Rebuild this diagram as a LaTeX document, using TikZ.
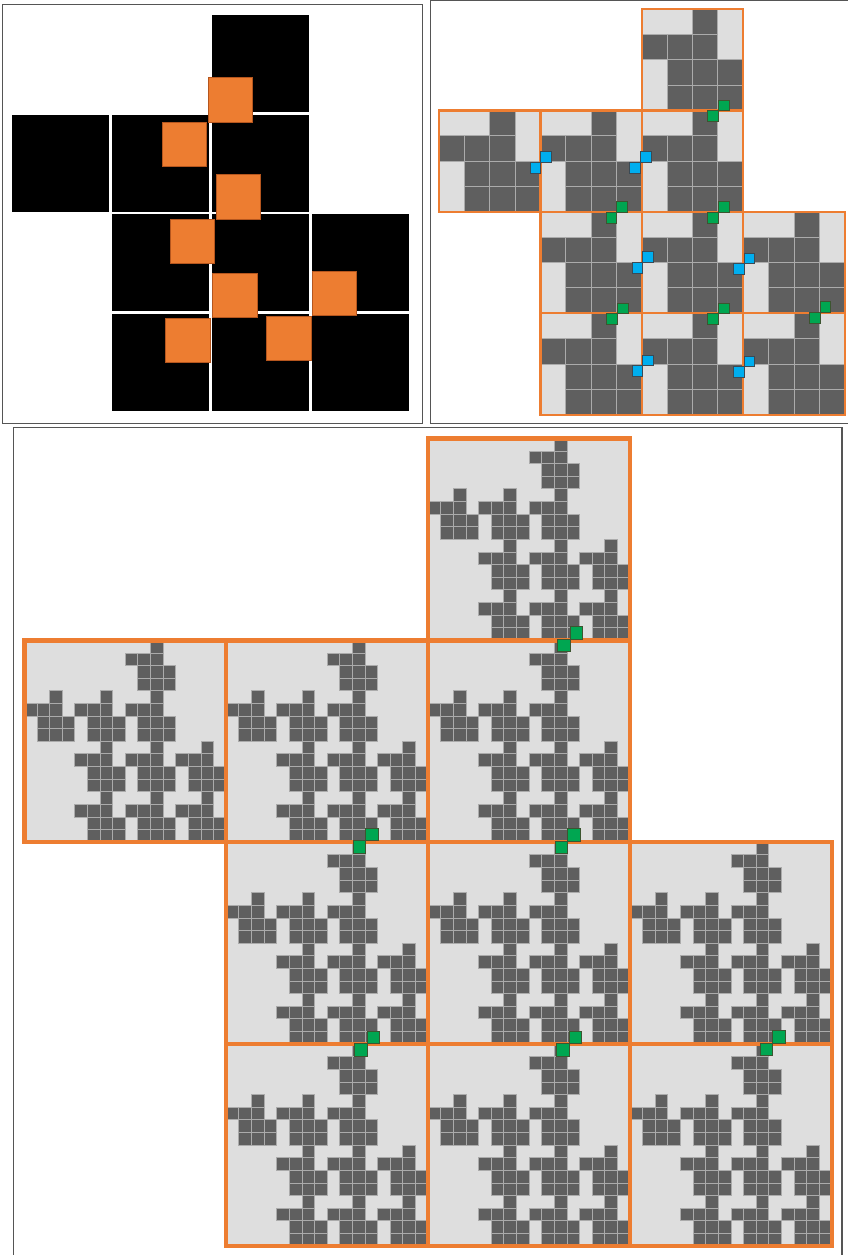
\documentclass[tikz,border=0pt]{standalone}
\usepackage{tikz}
\definecolor{dk}{HTML}{5F5F5F}
\definecolor{lt}{HTML}{DEDEDE}
\definecolor{gl}{HTML}{ABABAB}
\definecolor{org}{HTML}{ED7D31}
\definecolor{orgd}{HTML}{B5561E}
\definecolor{grn}{HTML}{00A651}
\definecolor{grnd}{HTML}{3C5530}
\definecolor{cyn}{HTML}{00AEEF}
\definecolor{cynd}{HTML}{3A4A55}
\definecolor{frm}{HTML}{555555}
\tikzset{
  frame/.style={draw=frm,line width=1.2pt},
  blk/.style={fill=black},
  osq/.style={fill=org,draw=orgd,line width=0.8pt},
  lightbg/.style={fill=lt},
  darkcell/.style={fill=dk,draw=gl,line width=0.8pt},
  oborder/.style={draw=org,line width=2.2pt},
  oborderbig/.style={draw=org,line width=4.4pt},
  gsq/.style={fill=grn,draw=grnd,line width=0.7pt},
  csq/.style={fill=cyn,draw=cynd,line width=0.7pt}
}
\newcommand\connpair[4]{%
  \filldraw[#1] ({#2-#4},#3) rectangle (#2,{#3+#4});
  \filldraw[#1] (#2,{#3-#4}) rectangle ({#2+#4},#3);}
\begin{document}
\begin{tikzpicture}[x=1pt,y=-1pt]
\useasboundingbox (0,0) rectangle (848,1255);
\fill[white] (0,0) rectangle (848,1255);
% ---------- top-left panel ----------
\draw[frame] (2.7,4.3) rectangle (422.3,423.3);
\foreach \r/\c in {0/2,1/0,1/1,1/2,2/1,2/2,2/3,3/1,3/2,3/3}
  {\fill[blk] ({12.3+99.8*\c},{14.8+99.8*\r}) rectangle ++(97,97);}
\foreach \xa/\ya/\xb/\yb in {208.3/77.7/252.3/122.7, 162.3/122.7/206.7/166.7,
  216/174/260/219, 170/219/214.3/263.3, 212.7/273.3/257.7/317.7,
  312.3/271/356.7/315.7, 165.5/318/210.5/362.5, 266.7/316/311/360}
  {\filldraw[osq] (\xa,\ya) rectangle (\xb,\yb);}
% ---------- top-right panel ----------
\draw[draw=frm,line width=1pt] (849,0.5) -- (430,0.5) -- (430,423.3) -- (849,423.3);
\foreach \R/\C in {0/2,1/0,1/1,1/2,2/1,2/2,2/3,3/1,3/2,3/3}{
  \fill[lightbg] ({439+101.4*\C},{9+101.4*\R}) rectangle ++(101.4,101.4);
  \foreach \r/\c in {0/2,1/0,1/1,1/2,2/1,2/2,2/3,3/1,3/2,3/3}
    {\filldraw[darkcell] ({439+101.4*\C+25.35*\c},{9+101.4*\R+25.35*\r}) rectangle ++(25.35,25.35);}
}
\foreach \R/\C in {0/2,1/0,1/1,1/2,2/1,2/2,2/3,3/1,3/2,3/3}
  {\draw[oborder] ({439+101.4*\C},{9+101.4*\R}) rectangle ++(101.4,101.4);}
\foreach \x/\y in {718.3/110.7, 616.7/212.5, 718.3/212.5, 617.3/313.8, 718.3/313.8, 820/312.5}
  {\connpair{gsq}{\x}{\y}{10.7}}
\foreach \x/\y in {540.7/162.2, 640.3/162.3, 642.7/262.2, 744/263.7, 642.7/365.8, 744/366.8}
  {\connpair{csq}{\x}{\y}{10.7}}
% ---------- bottom panel ----------
\draw[frame,line width=1.5pt] (13.7,1257) -- (13.7,427.3) -- (842,427.3) -- (842,1257);
\foreach \R/\C in {0/2,1/0,1/1,1/2,2/1,2/2,2/3,3/1,3/2,3/3}{
  \fill[lightbg] ({24.3+201.9*\C},{438.4+201.9*\R}) rectangle ++(201.9,201.9);
  \foreach \a/\b in {0/2,1/0,1/1,1/2,2/1,2/2,2/3,3/1,3/2,3/3}{
    \foreach \r/\c in {0/2,1/0,1/1,1/2,2/1,2/2,2/3,3/1,3/2,3/3}
      {\filldraw[darkcell] ({24.3+201.9*\C+12.62*(4*\b+\c)},{438.4+201.9*\R+12.62*(4*\a+\r)}) rectangle ++(12.62,12.62);}
  }
}
\foreach \R/\C in {0/2,1/0,1/1,1/2,2/1,2/2,2/3,3/1,3/2,3/3}
  {\draw[oborderbig] ({24.3+201.9*\C},{438.4+201.9*\R}) rectangle ++(201.9,201.9);}
\foreach \x/\y in {570/639, 365.7/840.7, 567.5/841, 367/1043.5, 569/1043.5, 772.5/1043}
  {\connpair{gsq}{\x}{\y}{12.5}}
\end{tikzpicture}
\end{document}
